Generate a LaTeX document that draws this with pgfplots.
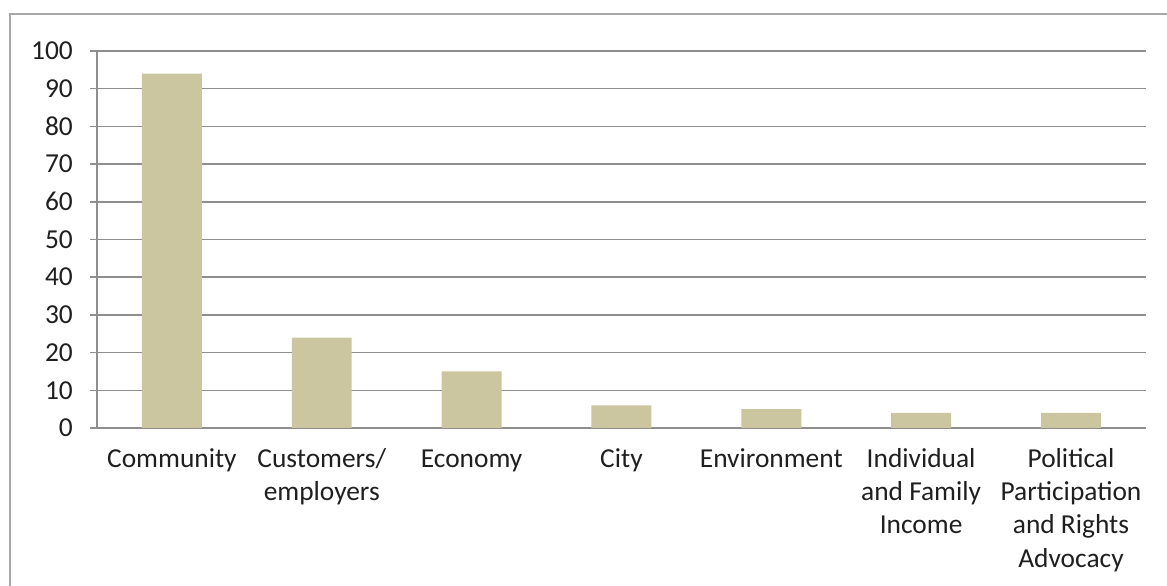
\documentclass[border=0pt]{standalone}
\usepackage{fontspec}
\setmainfont{Carlito}
\usepackage{pgfplots}
\pgfplotsset{compat=1.18}
\definecolor{barc}{HTML}{CBC5A0}
\definecolor{gridc}{HTML}{8E8E8E}
\definecolor{framec}{HTML}{A8A8A8}
\begin{document}
\begin{tikzpicture}
\path[use as bounding box] (0,0) rectangle (1167bp,586bp);
\begin{scope}
\clip (0,0) rectangle (1167bp,586bp);
\draw[framec, line width=2bp] (10bp,-20bp) rectangle (1200bp,572bp);
\end{scope}
\begin{axis}[
  at={(97bp,158bp)}, anchor=south west,
  scale only axis, width=1049bp, height=377bp,
  xmin=-0.5, xmax=6.5, ymin=0, ymax=100,
  ytick={0,10,...,100},
  xtick={0,...,6},
  xticklabels={\strut Community, \strut Customers/\\employers, \strut Economy, \strut City, \strut Environment, \strut Individual\\and Family\\Income, \strut Political\\Participation\\and Rights\\Advocacy},
  axis x line*=bottom, axis y line*=left,
  axis line style={gridc, line width=1.5bp},
  ymajorgrids, grid style={gridc, line width=1.5bp},
  xtick style={draw=none},
  ytick style={gridc, line width=1.5bp},
  tick align=outside, major tick length=7bp,
  /pgf/number format/assume math mode=true,
  tick label style={font=\fontsize{27.5}{33.5}\selectfont, text=black!88},
  yticklabel style={anchor=east, inner sep=0pt, xshift=-17bp},
  xticklabel style={anchor=north, align=center, inner sep=0pt, yshift=-8.5bp},
  ybar, bar width=0.4, bar shift=0pt,
]
\addplot[fill=barc, draw=none] coordinates {(0,94) (1,24) (2,15) (3,6) (4,5) (5,4) (6,4)};
\end{axis}
\end{tikzpicture}
\end{document}
